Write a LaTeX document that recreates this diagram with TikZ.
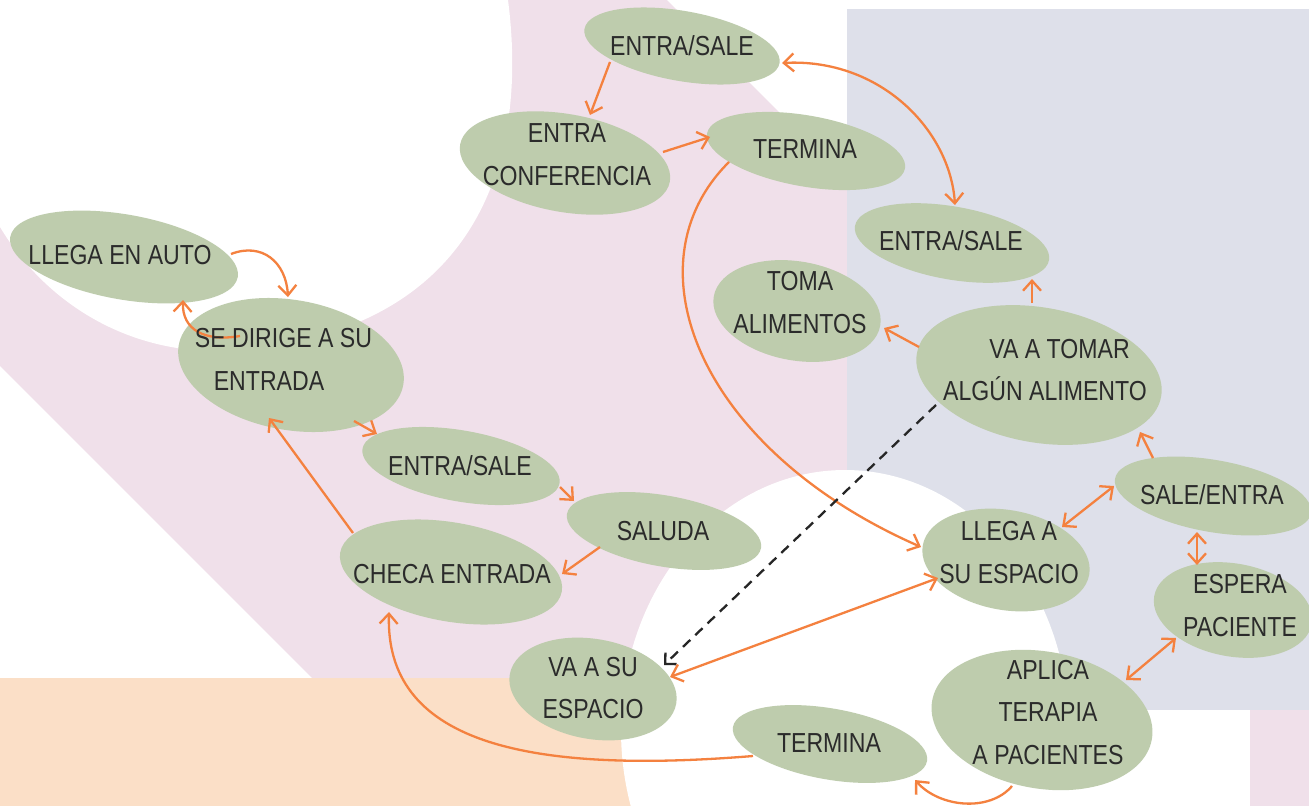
\documentclass[tikz,border=0pt]{standalone}
\usepackage{fontspec}
\setmainfont{Liberation Sans}[FakeStretch=0.84]
\usetikzlibrary{shapes.geometric,arrows.meta}
\definecolor{bgpink}{HTML}{F0E0EA}
\definecolor{bglav}{HTML}{DEE0EA}
\definecolor{bgpeach}{HTML}{FBDFC7}
\definecolor{sage}{HTML}{BECCAD}
\definecolor{orng}{HTML}{F4813F}
\definecolor{ink}{HTML}{2B2B2B}
\begin{document}
\begin{tikzpicture}[x=1pt,y=-1pt,
  bub/.style={ellipse, fill=sage, inner sep=0pt, rotate=-10},
  txt/.style={text=ink, font=\fontsize{27.5}{42.5}\selectfont, inner sep=0pt, text height=20pt, text depth=0pt},
  txtm/.style={text=ink, font=\fontsize{27.5}{42.5}\selectfont, inner sep=0pt, align=center},
  arr/.style={draw=orng, line width=2.3pt, -{Straight Barb[length=10pt,width=18pt]}},
  darr/.style={draw=orng, line width=2.3pt, {Straight Barb[length=10pt,width=18pt]}-{Straight Barb[length=10pt,width=18pt]}},
  dsh/.style={draw=black!85, line width=2.3pt, dash pattern=on 10pt off 7pt, -{Straight Barb[length=8pt,width=16pt]}}]
\useasboundingbox (0,0) rectangle (1309,806);
\clip (0,0) rectangle (1309,806);
% background
\fill[bgpink] (0,0) rectangle (1309,806);
\fill[white] (0,0) -- (508,0) .. controls (530,170) and (470,330) .. (240,350) .. controls (140,359) and (50,310) .. (0,227) -- cycle;
\fill[white] (667,0) -- (847,0) -- (847,180) -- cycle;
\fill[white] (847,0) rectangle (1309,9);
\fill[bglav] (847,9) rectangle (1309,710);
\fill[white] (0,366) -- (312,678) -- (0,678) -- cycle;
\fill[bgpeach] (0,678) rectangle (700,806);
\fill[white] (845,730) ellipse [x radius=224pt, y radius=260pt];
\fill[white] (1000,710) rectangle (1250,806);
% nodes
\node[bub, minimum width=198pt, minimum height=70pt] (n1) at (682,46) {};
\node[bub, minimum width=213pt, minimum height=98pt] (n2) at (565,163) {};
\node[bub, minimum width=201pt, minimum height=71pt] (n3) at (806,151) {};
\node[bub, minimum width=231pt, minimum height=85pt] (n4) at (124,257) {};
\node[bub, minimum width=228pt, minimum height=130pt] (n5) at (291,365) {};
\node[bub, minimum width=200pt, minimum height=71pt] (n6) at (461,466) {};
\node[bub, minimum width=197pt, minimum height=71pt] (n7) at (664,531) {};
\node[bub, minimum width=225pt, minimum height=99pt] (n8) at (451,572) {};
\node[bub, minimum width=169pt, minimum height=100pt] (n9) at (593,689) {};
\node[bub, minimum width=197pt, minimum height=71pt] (n10) at (830,744) {};
\node[bub, minimum width=223pt, minimum height=137pt] (n11) at (1042,720) {};
\node[bub, minimum width=169pt, minimum height=100pt] (n12) at (1006,560) {};
\node[bub, minimum width=199pt, minimum height=72pt] (n13) at (1213,496) {};
\node[bub, minimum width=160pt, minimum height=93pt] (n14) at (1233,610) {};
\node[bub, minimum width=248pt, minimum height=135pt] (n15) at (1039,375) {};
\node[bub, minimum width=169pt, minimum height=99pt] (n16) at (797,311) {};
\node[bub, minimum width=197pt, minimum height=73pt] (n17) at (952,243) {};
% connectors
\draw[arr] ([shift={(-72,16)}]n1.center) -- ([shift={(25,-48)}]n2.center);
\draw[arr] ([shift={(98,-11)}]n2.center) -- ([shift={(-96,-14)}]n3.center);
\draw[darr] ([shift={(100,17)}]n1.center) .. controls (880,58) and (950,130) .. ([shift={(3,-38)}]n17.center);
\draw[arr] ([shift={(-77,11)}]n3.center) .. controls (625,265) and (700,450) .. ([shift={(-85,-13)}]n12.center);
\draw[arr] ([shift={(-7,-72)}]n15.center) -- ([shift={(80,36)}]n17.center);
\draw[arr] ([shift={(-120,-28)}]n15.center) -- ([shift={(87,17)}]n16.center);
\draw[dsh] ([shift={(-103,30)}]n15.center) -- ([shift={(71,-24)}]n9.center);
\draw[arr] ([shift={(-60,-38)}]n13.center) -- ([shift={(101,57)}]n15.center);
\draw[darr] ([shift={(56,-33)}]n12.center) -- ([shift={(-99,-10)}]n13.center);
\draw[darr] ([shift={(-16,36)}]n13.center) -- ([shift={(-36,-45)}]n14.center);
\draw[darr] ([shift={(84,-40)}]n11.center) -- ([shift={(-57,28)}]n14.center);
\draw[arr] ([shift={(-30,66)}]n11.center) .. controls (990,812) and (940,808) .. ([shift={(85,36)}]n10.center);
\draw[arr] ([shift={(-77,12)}]n10.center) .. controls (520,775) and (385,740) .. ([shift={(-62,40)}]n8.center);
\draw[arr] ([shift={(-98,-39)}]n8.center) -- ([shift={(-22,53)}]n5.center);
\draw[arr] ([shift={(63,56)}]n5.center) -- ([shift={(-84,-32)}]n6.center);
\draw[arr] ([shift={(99,21)}]n6.center) -- ([shift={(-90,-30)}]n7.center);
\draw[arr] ([shift={(-64,16)}]n7.center) -- ([shift={(111,2)}]n8.center);
\draw[arr] ([shift={(107,-3)}]n4.center) .. controls (262,242) and (286,262) .. ([shift={(-3,-68)}]n5.center);
\draw[arr] ([shift={(-51,-29)}]n5.center) .. controls (205,342) and (182,330) .. ([shift={(59,43)}]n4.center);
\draw[darr] ([shift={(77,-12)}]n9.center) -- ([shift={(-68,18)}]n12.center);
% texts
\node[txt] (t1) at (682,45) {ENTRA/SALE};
\node[txtm] (t2) at (567,154.5) {ENTRA\\CONFERENCIA};
\node[txt] (t3) at (805,148) {TERMINA};
\node[txt] (t4) at (120,254) {LLEGA EN AUTO};
\node[txtm] (t5) at (283.5,359.5) {SE DIRIGE A SU\\ENTRADA\rule{29pt}{0pt}};
\node[txt] (t6) at (460,465) {ENTRA/SALE};
\node[txt] (t7) at (663,530) {SALUDA};
\node[txt] (t8) at (452,573) {CHECA ENTRADA};
\node[txtm] (t9) at (593,688) {VA A SU\\ESPACIO};
\node[txt] (t10) at (829,742) {TERMINA};
\node[txtm] (t11) at (1048,712.5) {APLICA\\TERAPIA\\A PACIENTES};
\node[txtm] (t12) at (1009,552.5) {LLEGA A\\SU ESPACIO};
\node[txt] (t13) at (1212,494) {SALE/ENTRA};
\node[txtm] (t14) at (1240,605.5) {ESPERA\\PACIENTE};
\node[txtm] (t15) at (1045,370) {\rule{29pt}{0pt}VA A TOMAR\\ALGÚN ALIMENTO};
\node[txtm] (t16) at (800,302.5) {TOMA\\ALIMENTOS};
\node[txt] (t17) at (951,240) {ENTRA/SALE};
\end{tikzpicture}
\end{document}
